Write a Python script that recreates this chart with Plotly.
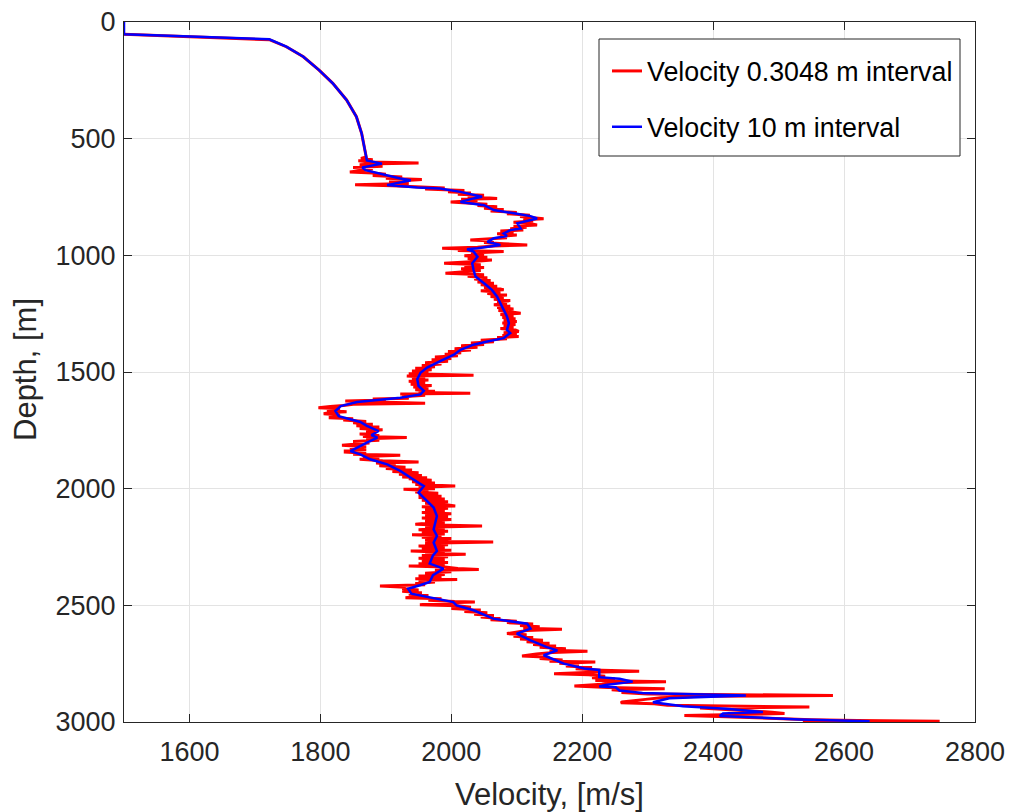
import plotly.graph_objects as go

# ---------------- data ----------------
# Velocity sampled every 10 m (blue)
blue_depth = [0, 53, 74, 106, 149, 206, 263, 334, 406, 477,
              578, 593, 607, 624, 635, 650, 671, 678, 692, 699,
              709, 714, 728, 742, 749, 756, 771, 785, 806, 820,
              832, 842, 852, 863, 885, 892, 906, 917, 927, 942,
              956, 963, 970, 974, 984, 1006, 1034, 1063, 1091, 1120,
              1148, 1177, 1205, 1234, 1262, 1291, 1319, 1333, 1355, 1369,
              1383, 1405, 1426, 1453, 1481, 1503, 1531, 1560, 1581, 1596,
              1610, 1620, 1629, 1646, 1667, 1689, 1703, 1714, 1731, 1753,
              1770, 1781, 1803, 1824, 1839, 1853, 1874, 1896, 1924, 1953,
              1989, 2017, 2053, 2081, 2117, 2174, 2203, 2231, 2267, 2286,
              2321, 2343, 2371, 2400, 2414, 2429, 2450, 2471, 2486, 2500,
              2521, 2557, 2579, 2600, 2621, 2650, 2679, 2693, 2714, 2750,
              2771, 2777, 2808, 2815, 2827, 2841, 2848, 2851, 2865, 2876,
              2886, 2898, 2915, 2932, 2943, 2957, 2964, 2974, 2989, 2997]
blue_vel = [1500, 1500, 1722, 1748, 1774, 1798, 1819, 1840, 1855, 1863,
            1870, 1871, 1894, 1864, 1869, 1892, 1922, 1938, 1912, 1902,
            1948, 1983, 2014, 2034, 2047, 2034, 2014, 2050, 2065, 2096,
            2121, 2131, 2116, 2101, 2106, 2090, 2080, 2085, 2065, 2055,
            2075, 2060, 2040, 2024, 2034, 2040, 2032, 2034, 2037, 2050,
            2062, 2070, 2075, 2080, 2085, 2088, 2085, 2090, 2080, 2055,
            2034, 2014, 2004, 1983, 1963, 1953, 1948, 1950, 1958, 1953,
            1922, 1887, 1856, 1831, 1823, 1828, 1846, 1861, 1871, 1889,
            1878, 1887, 1871, 1856, 1846, 1861, 1876, 1902, 1922, 1938,
            1958, 1950, 1963, 1973, 1978, 1973, 1978, 1973, 1978, 1972,
            1967, 1988, 1972, 1967, 1952, 1934, 1939, 1977, 2003, 2008,
            2034, 2064, 2116, 2121, 2100, 2121, 2146, 2162, 2141, 2172,
            2203, 2226, 2226, 2257, 2277, 2236, 2226, 2251, 2257, 2292,
            2450, 2333, 2308, 2354, 2420, 2476, 2415, 2410, 2532, 2639]

red_depth = [53, 76, 106, 149, 206, 263, 334, 406, 477, 578,
             585, 590, 595, 600, 604, 607, 612, 618, 624, 630,
             637, 643, 647, 652, 658, 664, 670, 675, 680, 686,
             692, 697, 702, 707, 711, 716, 722, 728, 733, 738,
             743, 748, 752, 756, 760, 765, 771, 776, 781, 786,
             792, 798, 804, 810, 816, 822, 828, 834, 840, 843,
             848, 853, 858, 864, 870, 875, 880, 886, 891, 896,
             902, 908, 913, 919, 925, 930, 934, 939, 945, 950,
             956, 960, 965, 970, 974, 979, 984, 990, 996, 1002,
             1008, 1014, 1020, 1027, 1034, 1040, 1046, 1052, 1058, 1065,
             1071, 1077, 1083, 1090, 1096, 1102, 1108, 1114, 1120, 1126,
             1132, 1138, 1144, 1148, 1152, 1158, 1164, 1170, 1176, 1182,
             1188, 1194, 1200, 1206, 1212, 1218, 1224, 1230, 1236, 1242,
             1248, 1254, 1260, 1266, 1272, 1278, 1284, 1290, 1296, 1302,
             1308, 1314, 1320, 1326, 1332, 1338, 1344, 1348, 1352, 1358,
             1364, 1370, 1376, 1382, 1388, 1394, 1400, 1406, 1412, 1418,
             1424, 1430, 1436, 1442, 1448, 1454, 1460, 1466, 1472, 1478,
             1484, 1490, 1496, 1502, 1508, 1514, 1517, 1522, 1528, 1534,
             1540, 1546, 1552, 1558, 1564, 1570, 1576, 1582, 1588, 1591,
             1594, 1600, 1606, 1612, 1616, 1620, 1624, 1628, 1634, 1638,
             1644, 1648, 1653, 1658, 1664, 1670, 1674, 1679, 1684, 1690,
             1696, 1700, 1706, 1712, 1718, 1724, 1730, 1736, 1742, 1748,
             1754, 1760, 1766, 1772, 1776, 1781, 1786, 1792, 1798, 1804,
             1810, 1814, 1820, 1826, 1832, 1838, 1843, 1848, 1853, 1857,
             1862, 1868, 1874, 1880, 1886, 1890, 1896, 1902, 1908, 1914,
             1920, 1926, 1932, 1938, 1944, 1950, 1953, 1958, 1964, 1970,
             1976, 1982, 1989, 1994, 2000, 2003, 2008, 2014, 2020, 2026,
             2032, 2038, 2044, 2050, 2056, 2062, 2068, 2074, 2078, 2084,
             2090, 2096, 2102, 2108, 2114, 2120, 2126, 2132, 2138, 2144,
             2150, 2153, 2157, 2160, 2165, 2170, 2176, 2182, 2188, 2194,
             2197, 2202, 2208, 2214, 2220, 2226, 2229, 2234, 2240, 2246,
             2252, 2258, 2264, 2267, 2272, 2278, 2281, 2286, 2292, 2298,
             2304, 2310, 2316, 2322, 2328, 2331, 2336, 2342, 2346, 2350,
             2356, 2362, 2368, 2374, 2380, 2386, 2389, 2394, 2400, 2406,
             2412, 2417, 2422, 2428, 2434, 2440, 2446, 2452, 2458, 2464,
             2467, 2472, 2478, 2484, 2486, 2490, 2497, 2502, 2508, 2514,
             2520, 2526, 2532, 2538, 2544, 2550, 2556, 2562, 2568, 2574,
             2580, 2586, 2592, 2598, 2603, 2608, 2614, 2621, 2626, 2632,
             2638, 2644, 2650, 2656, 2662, 2668, 2674, 2680, 2686, 2692,
             2697, 2702, 2708, 2717, 2722, 2728, 2734, 2740, 2743, 2748,
             2754, 2760, 2766, 2772, 2778, 2783, 2787, 2793, 2798, 2804,
             2810, 2816, 2822, 2827, 2832, 2838, 2846, 2852, 2858, 2862,
             2868, 2874, 2880, 2886, 2890, 2896, 2902, 2908, 2914, 2918,
             2922, 2928, 2936, 2940, 2946, 2952, 2958, 2964, 2968, 2972,
             2978, 2984, 2990, 2994, 2997, 3000]
red_vel = [1500, 1722, 1748, 1774, 1798, 1819, 1840, 1855, 1863, 1870,
           1862, 1880, 1858, 1875, 1950, 1890, 1860, 1895, 1850, 1880,
           1860, 1845, 1880, 1900, 1880, 1925, 1900, 1955, 1925, 1905,
           1935, 1853, 1910, 1945, 1990, 1960, 2020, 1995, 2030, 2010,
           2050, 2025, 2050, 2070, 2015, 2040, 1999, 2030, 2055, 2040,
           2070, 2050, 2080, 2060, 2100, 2085, 2120, 2105, 2135, 2141,
           2110, 2125, 2095, 2120, 2131, 2095, 2115, 2090, 2110, 2075,
           2095, 2070, 2100, 2075, 2085, 2040, 2029, 2065, 2050, 2080,
           2116, 2065, 2040, 1986, 2030, 2010, 2080, 2030, 2050, 2020,
           2055, 2025, 2062, 2030, 1989, 2045, 2020, 2050, 2015, 2045,
           2020, 1991, 2050, 2025, 2055, 2035, 2060, 2040, 2065, 2045,
           2070, 2050, 2075, 2080, 2045, 2075, 2055, 2085, 2060, 2080,
           2065, 2090, 2070, 2085, 2065, 2090, 2070, 2095, 2072, 2090,
           2106, 2075, 2095, 2078, 2098, 2080, 2100, 2078, 2098, 2080,
           2095, 2075, 2098, 2103, 2080, 2100, 2078, 2103, 2070, 2085,
           2045, 2065, 2030, 2050, 2015, 2040, 2005, 2030, 1995, 2015,
           1990, 2010, 1975, 2000, 1970, 1995, 1960, 1985, 1955, 1975,
           1945, 1970, 1940, 1965, 1935, 2034, 1932, 1960, 1940, 1965,
           1935, 1960, 1938, 1970, 1942, 1965, 1945, 1975, 1950, 2029,
           1922, 1960, 1925, 1935, 1880, 1900, 1838, 1870, 1960, 1850,
           1835, 1815, 1797, 1830, 1810, 1840, 1815, 1805, 1830, 1815,
           1815, 1850, 1835, 1870, 1850, 1880, 1855, 1890, 1860, 1895,
           1870, 1885, 1860, 1890, 1865, 1932, 1870, 1890, 1850, 1875,
           1845, 1833, 1870, 1845, 1870, 1838, 1838, 1870, 1850, 1922,
           1865, 1890, 1860, 1895, 1950, 1885, 1915, 1890, 1930, 1900,
           1940, 1910, 1950, 1920, 1955, 1925, 1963, 1935, 1970, 1940,
           1975, 1945, 2006, 1950, 1975, 1927, 1965, 1945, 1980, 1950,
           1985, 1950, 1990, 1955, 1995, 1960, 1990, 2006, 1955, 1995,
           1960, 1990, 1955, 2000, 1960, 1995, 1955, 2000, 1960, 1990,
           1955, 1945, 1995, 2047, 1960, 1990, 1950, 1995, 1955, 1990,
           1940, 1985, 1955, 2000, 1960, 1990, 2064, 1960, 1995, 1950,
           1990, 1955, 2000, 1938, 1990, 1960, 2022, 1955, 1995, 1950,
           1990, 1955, 1995, 1950, 1990, 1935, 1990, 2010, 2042, 1975,
           2000, 1960, 1990, 1950, 1985, 1945, 2009, 1950, 1975, 1945,
           1960, 1891, 1930, 1925, 1950, 1925, 1955, 1935, 1965, 1940,
           1930, 1985, 1965, 2005, 2036, 1985, 1952, 2010, 2030, 2000,
           2045, 2020, 2055, 2035, 2065, 2045, 2075, 2060, 2100, 2085,
           2125, 2105, 2135, 2110, 2169, 2115, 2100, 2085, 2115, 2095,
           2125, 2105, 2140, 2115, 2150, 2125, 2160, 2135, 2175, 2150,
           2208, 2155, 2130, 2108, 2150, 2135, 2170, 2150, 2220, 2165,
           2195, 2175, 2215, 2190, 2230, 2287, 2215, 2157, 2210, 2235,
           2215, 2250, 2220, 2328, 2245, 2230, 2188, 2240, 2326, 2245,
           2275, 2260, 2300, 2583, 2380, 2320, 2300, 2280, 2261, 2259,
           2310, 2330, 2547, 2380, 2420, 2450, 2490, 2509, 2400, 2356,
           2420, 2480, 2550, 2620, 2746, 2537]

x_ticks = [1600, 1800, 2000, 2200, 2400, 2600, 2800]
y_ticks = [0, 500, 1000, 1500, 2000, 2500, 3000]

# ---------------- figure ----------------
FONT = "Liberation Sans, Arial, sans-serif"
AX = "#262626"
L, R, T, B = 124, 36, 22, 90
W, H = 1011, 812
PW, PH = W - L - R, H - T - B


def px_x(p):  # pixel -> paper x
    return (p - L) / PW


def px_y(p):  # pixel -> paper y
    return (H - B - p) / PH


fig = go.Figure()
fig.add_trace(go.Scatter(x=red_vel, y=red_depth, mode="lines",
                         name="Velocity 0.3048 m interval",
                         line=dict(color="#ff0000", width=3),
                         legendgroup="a"))
fig.add_trace(go.Scatter(x=blue_vel, y=blue_depth, mode="lines",
                         name="Velocity 10 m interval",
                         line=dict(color="#0000ff", width=2.5),
                         legendgroup="b"))

axis_common = dict(
    showline=True, linecolor=AX, linewidth=1, mirror="ticks",
    ticks="inside", ticklen=8, tickcolor=AX, tickwidth=1,
    showgrid=True, gridcolor="#e3e3e3", gridwidth=1,
    zeroline=False, automargin=False, layer="below traces",
    tickfont=dict(family=FONT, size=27, color=AX),
)

fig.update_layout(
    width=W, height=H,
    margin=dict(l=L, r=R, t=T, b=B, autoexpand=False),
    paper_bgcolor="white", plot_bgcolor="white",
    font=dict(family=FONT, color=AX),
    xaxis=dict(range=[1500, 2800], tickvals=x_ticks, ticklabelstandoff=6,
               **axis_common),
    yaxis=dict(range=[3000, 0], tickvals=y_ticks, ticklabelstandoff=2,
               **axis_common),
    legend=dict(x=px_x(607), y=px_y(47), xanchor="left", yanchor="top",
                bgcolor="rgba(0,0,0,0)", borderwidth=0,
                font=dict(family=FONT, size=26.8, color="black"),
                tracegroupgap=18, traceorder="grouped"),
    showlegend=True,
    shapes=[dict(type="rect", xref="paper", yref="paper",
                 x0=px_x(599), x1=px_x(960), y0=px_y(156), y1=px_y(39),
                 line=dict(color=AX, width=1), fillcolor="white",
                 layer="above")],
    annotations=[
        dict(text="Velocity, [m/s]", xref="paper", yref="paper",
             x=0.5, y=0, xanchor="center", yanchor="middle",
             yshift=-(794 - (H - B)), showarrow=False,
             font=dict(family=FONT, size=31, color=AX)),
        dict(text="Depth, [m]", xref="paper", yref="paper",
             x=0, y=px_y(370), xanchor="center", yanchor="middle",
             xshift=-(L - 25), textangle=-90, showarrow=False,
             font=dict(family=FONT, size=31, color=AX)),
    ],
)

fig.write_html("out.html")
